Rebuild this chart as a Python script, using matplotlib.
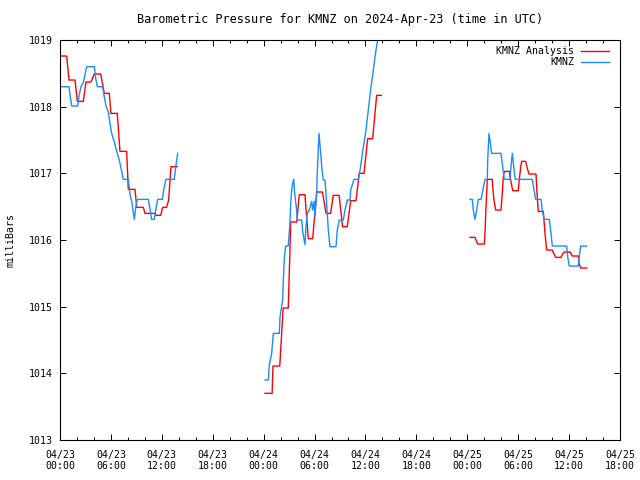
import numpy as np
import pandas as pd
import matplotlib
matplotlib.use('Agg')
from matplotlib import pyplot as plt
import matplotlib.dates as mdates

plt.rcParams['font.family'] = ['DejaVu Sans Mono']
plt.rcParams['font.size'] = 7.1

base = pd.Timestamp('2024-04-23 00:00')

# KMNZ Analysis (hours since 04/23 00:00, mb) - three segments
ana_h1 = [0, 0.79, 1.06, 1.77, 2.04, 2.75, 3.06, 3.65, 4.04, 4.8, 5.03, 5.22, 5.81,
          6.0, 6.75, 7.07, 7.86, 8.05, 8.84, 9.04, 9.82, 10.02, 11.2, 11.31, 11.87,
          12.1, 12.57, 12.8, 13.08, 13.83]
ana_v1 = [1018.76, 1018.76, 1018.40, 1018.40, 1018.08, 1018.08, 1018.37, 1018.37,
          1018.49, 1018.49, 1018.33, 1018.20, 1018.20, 1017.90, 1017.90, 1017.33,
          1017.33, 1016.76, 1016.76, 1016.49, 1016.49, 1016.40, 1016.40, 1016.37,
          1016.37, 1016.49, 1016.49, 1016.60, 1017.10, 1017.10]
ana_h2 = [24.16, 25.0, 25.1, 25.9, 26.3, 26.9, 27.2, 27.9, 28.0, 28.1, 28.2, 28.87,
          29.26, 29.78, 30.25, 30.94, 31.35, 31.9, 32.2, 32.9, 33.3, 33.86, 34.26,
          34.88, 35.27, 35.83, 36.26, 36.85, 37.32, 37.87]
ana_v2 = [1013.70, 1013.70, 1014.11, 1014.11, 1014.98, 1014.98, 1016.27, 1016.27,
          1016.40, 1016.55, 1016.68, 1016.68, 1016.02, 1016.02, 1016.72, 1016.72,
          1016.40, 1016.40, 1016.67, 1016.67, 1016.20, 1016.20, 1016.59, 1016.59,
          1017.00, 1017.00, 1017.52, 1017.52, 1018.17, 1018.17]
ana_h3 = [48.32, 48.91, 49.03, 49.23, 50.01, 50.09, 50.21, 50.36, 50.95, 51.0, 51.15,
          51.35, 51.97, 52.13, 52.25, 52.36, 52.95, 53.12, 53.35, 54.01, 54.13, 54.3,
          54.41, 54.88, 55.07, 55.27, 56.1, 56.22, 56.37, 56.96, 57.16, 57.36, 58.02,
          58.19, 58.42, 59.05, 59.2, 59.4, 60.11, 60.38, 61.08, 61.17, 61.36, 62.07]
ana_v3 = [1016.04, 1016.04, 1016.00, 1015.94, 1015.94, 1016.10, 1016.50, 1016.91,
          1016.91, 1016.80, 1016.60, 1016.45, 1016.45, 1016.70, 1016.95, 1017.03,
          1017.03, 1016.90, 1016.74, 1016.74, 1016.90, 1017.10, 1017.18, 1017.18,
          1017.08, 1016.99, 1016.99, 1016.70, 1016.43, 1016.43, 1016.10, 1015.85,
          1015.85, 1015.80, 1015.74, 1015.74, 1015.78, 1015.82, 1015.82, 1015.76,
          1015.76, 1015.65, 1015.58, 1015.58]

# KMNZ observations
obs_h1 = [0, 1.06, 1.18, 1.38, 2.08, 2.24, 2.47, 2.75, 2.95, 3.14, 4.05, 4.2, 4.4,
          5.03, 5.22, 5.42, 5.7, 5.89, 6.09, 6.4, 6.68, 6.99, 7.46, 8.05, 8.25, 8.45,
          8.6, 8.76, 8.92, 9.11, 10.41, 10.6, 10.8, 11.11, 11.31, 11.51, 12.06, 12.26,
          12.49, 13.47, 13.64, 13.87]
obs_v1 = [1018.30, 1018.30, 1018.18, 1018.01, 1018.01, 1018.16, 1018.30, 1018.36,
          1018.48, 1018.60, 1018.60, 1018.43, 1018.30, 1018.30, 1018.15, 1018.01,
          1017.92, 1017.75, 1017.60, 1017.47, 1017.33, 1017.20, 1016.91, 1016.91,
          1016.68, 1016.58, 1016.45, 1016.31, 1016.48, 1016.61, 1016.61, 1016.47,
          1016.31, 1016.31, 1016.47, 1016.61, 1016.61, 1016.78, 1016.91, 1016.91,
          1017.10, 1017.30]
obs_h2 = [24.16, 24.55, 24.67, 24.95, 25.14, 25.85, 25.93, 26.24, 26.32, 26.44, 26.6,
          26.9, 26.99, 27.11, 27.19, 27.31, 27.42, 27.54, 27.66, 27.89, 27.97, 28.49,
          28.58, 28.87, 28.99, 29.14, 29.38, 29.66, 29.78, 29.94, 30.05, 30.25, 30.32,
          30.52, 30.64, 30.76, 30.88, 31.03, 31.23, 31.35, 31.55, 31.62, 31.82, 32.53,
          32.68, 32.92, 33.39, 33.59, 33.86, 34.18, 34.26, 34.5, 34.65, 35.16, 35.36,
          35.48, 35.63, 35.83, 36.06, 36.33, 36.61, 36.92, 37.24, 37.63, 37.95]
obs_v2 = [1013.90, 1013.90, 1014.13, 1014.30, 1014.60, 1014.60, 1014.85, 1015.10,
          1015.40, 1015.73, 1015.91, 1015.91, 1016.07, 1016.27, 1016.55, 1016.75,
          1016.85, 1016.91, 1016.70, 1016.45, 1016.30, 1016.30, 1016.15, 1015.93,
          1016.20, 1016.40, 1016.45, 1016.58, 1016.45, 1016.58, 1016.35, 1016.70,
          1017.00, 1017.60, 1017.43, 1017.25, 1017.05, 1016.90, 1016.90, 1016.70,
          1016.30, 1016.15, 1015.90, 1015.90, 1016.15, 1016.30, 1016.30, 1016.45,
          1016.60, 1016.60, 1016.75, 1016.85, 1016.91, 1016.91, 1017.05, 1017.15,
          1017.30, 1017.45, 1017.65, 1017.95, 1018.25, 1018.55, 1018.85, 1019.15,
          1019.40]
obs_h3 = [48.32, 48.59, 48.71, 48.91, 49.11, 49.3, 49.62, 49.7, 49.89, 50.09, 50.36,
          50.41, 50.56, 50.72, 50.88, 51.97, 52.17, 52.36, 53.03, 53.15, 53.31, 53.47,
          53.66, 55.66, 55.83, 56.06, 56.69, 56.84, 57.07, 57.67, 57.87, 58.02, 59.72,
          59.83, 60.02, 61.08, 61.2, 61.36, 62.07]
obs_v3 = [1016.61, 1016.61, 1016.45, 1016.31, 1016.45, 1016.61, 1016.61, 1016.66,
          1016.78, 1016.91, 1016.91, 1017.20, 1017.60, 1017.45, 1017.30, 1017.30,
          1017.10, 1016.91, 1016.91, 1017.10, 1017.30, 1017.10, 1016.91, 1016.91,
          1016.78, 1016.61, 1016.61, 1016.45, 1016.31, 1016.31, 1016.10, 1015.91,
          1015.91, 1015.75, 1015.61, 1015.61, 1015.75, 1015.91, 1015.91]


def join(hs, vs):
    # glue segments with a NaN so the line breaks in the gaps
    h_all, v_all = [], []
    for h, v in zip(hs, vs):
        if h_all:
            h_all.append((h_all[-1] + h[0]) / 2)
            v_all.append(np.nan)
        h_all += h
        v_all += v
    t = base + pd.to_timedelta(h_all, unit='h')
    return t, np.array(v_all)


ana_t, ana_v = join([ana_h1, ana_h2, ana_h3], [ana_v1, ana_v2, ana_v3])
obs_t, obs_v = join([obs_h1, obs_h2, obs_h3], [obs_v1, obs_v2, obs_v3])

fig = plt.figure(figsize=(6.4, 4.8), dpi=100)
ax = fig.add_axes([0.09375, 0.0833, 0.875, 0.8333])

ax.plot(ana_t, ana_v, color='#ff0000', lw=1.0)
ax.plot(obs_t, obs_v, color='#1a8cff', lw=1.0)

ax.set_xlim(base, base + pd.Timedelta(hours=66))
ax.set_ylim(1013, 1019)
ax.set_yticks(np.arange(1013, 1020, 1))
ax.xaxis.set_major_locator(mdates.HourLocator(byhour=[0, 6, 12, 18]))
ax.xaxis.set_minor_locator(mdates.HourLocator(interval=2))
ax.xaxis.set_major_formatter(mdates.DateFormatter('%m/%d\n%H:%M'))
ax.tick_params(which='both', direction='in', top=True, right=True, width=0.7)
ax.tick_params(which='major', length=4)
ax.tick_params(which='minor', length=2)
ax.tick_params(axis='x', pad=7)
ax.tick_params(axis='y', pad=5)
for sp in ax.spines.values():
    sp.set_linewidth(0.8)

ax.set_ylabel('milliBars', labelpad=10)
ax.set_title('Barometric Pressure for KMNZ on 2024-Apr-23 (time in UTC)', pad=12)

# gnuplot-style key, text right-aligned before the sample line
ax.text(0.918, 0.972, 'KMNZ Analysis', transform=ax.transAxes, ha='right', va='center')
ax.plot([0.930, 0.980], [0.972, 0.972], color='#ff0000', lw=1.0, transform=ax.transAxes)
ax.text(0.918, 0.944, 'KMNZ', transform=ax.transAxes, ha='right', va='center')
ax.plot([0.930, 0.980], [0.944, 0.944], color='#1a8cff', lw=1.0, transform=ax.transAxes)

plt.savefig('out.png', dpi=100)
